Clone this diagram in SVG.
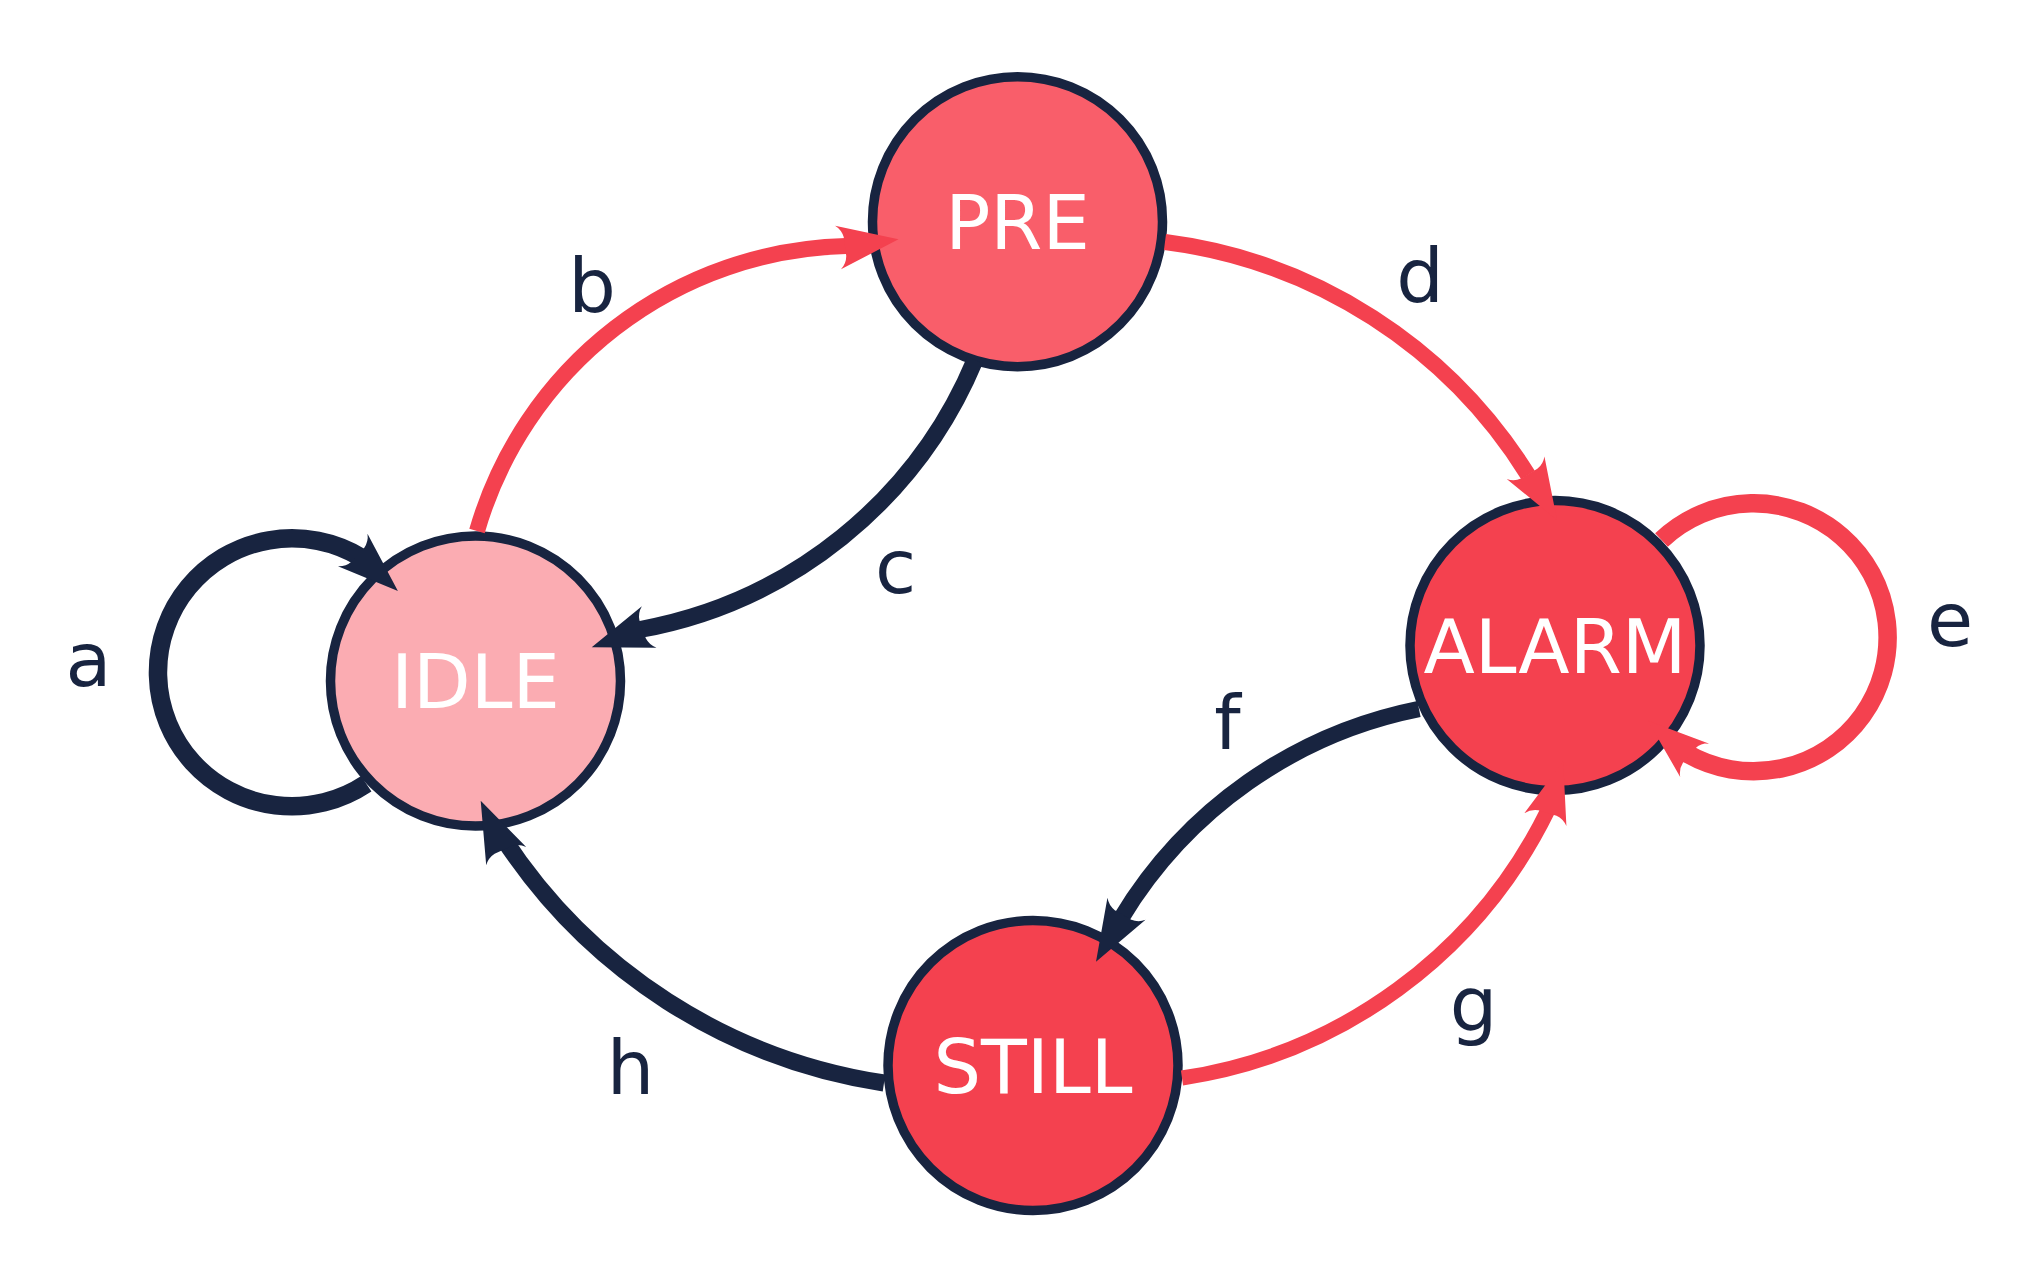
<svg xmlns="http://www.w3.org/2000/svg" xmlns:xlink="http://www.w3.org/1999/xlink" width="2040" height="1288" viewBox="0 0 2040 1288">
<style>
.node circle{stroke:#182440;stroke-width:9.5}
.nlabel{font-family:"DejaVu Sans","Liberation Sans",sans-serif;font-size:75px;fill:#ffffff;text-anchor:middle}
.elabel{font-family:"DejaVu Sans","Liberation Sans",sans-serif;font-size:75px;fill:#182440;text-anchor:middle}
.shaft{fill:none;stroke-linecap:butt}
.navy{stroke:#182440}
.red{stroke:#F4414F}
.hnavy{fill:#182440}
.hred{fill:#F4414F}
</style>
<defs>
<path id="ah" d="M0,0 L-61,-22 Q-55,-17 -54,-9.5 L-54,9.5 Q-55,17 -61,22 Z"/>
</defs>
<rect width="2040" height="1288" fill="#ffffff"/>
<g id="nodes">
<g id="node-PRE" class="node"><circle cx="1017.5" cy="221.7" r="145" fill="#F95E6A"/><text class="nlabel" x="1017.5" y="248.7">PRE</text></g>
<g id="node-IDLE" class="node"><circle cx="475.5" cy="681" r="145" fill="#FBACB2"/><text class="nlabel" x="475.5" y="708">IDLE</text></g>
<g id="node-ALARM" class="node"><circle cx="1555" cy="645.6" r="145" fill="#F4414F"/><text class="nlabel" x="1555" y="672.6">ALARM</text></g>
<g id="node-STILL" class="node"><circle cx="1033" cy="1065.5" r="145" fill="#F4414F"/><text class="nlabel" x="1033" y="1092.5">STILL</text></g>
</g>
<g id="connectors">
<g id="edge-a"><path class="shaft navy" stroke-width="18.5" d="M366.3,783.8 A134,134 0 1 1 360.9,557.4"/><use xlink:href="#ah" href="#ah" class="hnavy" transform="translate(397.9,591) rotate(42.2)"/></g>
<g id="edge-b"><path class="shaft red" stroke-width="16" d="M477,531 A394.5,394.5 0 0 1 846,246"/><use xlink:href="#ah" href="#ah" class="hred" transform="translate(898.5,239.3) rotate(-7.7)"/></g>
<g id="edge-c"><path class="shaft navy" stroke-width="17" d="M975,360 A450,450 0 0 1 640,629.5"/><use xlink:href="#ah" href="#ah" class="hnavy" transform="translate(591.7,647.3) rotate(160.5)"/></g>
<g id="edge-d"><path class="shaft red" stroke-width="16" d="M1165,242 A503,503 0 0 1 1528,475"/><use xlink:href="#ah" href="#ah" class="hred" transform="translate(1557,520) rotate(59)"/></g>
<g id="edge-e"><path class="shaft red" stroke-width="18.5" d="M1661.5,540 A134,134 0 1 1 1686,753"/><use xlink:href="#ah" href="#ah" class="hred" transform="translate(1647.9,720.7) rotate(220.3)"/></g>
<g id="edge-f"><path class="shaft navy" stroke-width="16.5" d="M1419,709 A451.2,451.2 0 0 0 1121,918.4"/><use xlink:href="#ah" href="#ah" class="hnavy" transform="translate(1096,961.7) rotate(120)"/></g>
<g id="edge-g"><path class="shaft red" stroke-width="15" d="M1182,1078 A487.8,487.8 0 0 0 1548,810"/><use xlink:href="#ah" href="#ah" class="hred" transform="translate(1563.2,761.3) rotate(-73)"/></g>
<g id="edge-h"><path class="shaft navy" stroke-width="17" d="M884,1083 A553.8,553.8 0 0 1 503,838"/><use xlink:href="#ah" href="#ah" class="hnavy" transform="translate(480.7,800.7) rotate(245.3)"/></g>
</g>
<g id="edge-labels">
<text class="elabel" x="88.5" y="686.3">a</text>
<text class="elabel" x="592" y="312">b</text>
<text class="elabel" x="895.5" y="593">c</text>
<text class="elabel" x="1420" y="302">d</text>
<text class="elabel" x="1950" y="646">e</text>
<text class="elabel" x="1227.5" y="748.7">f</text>
<text class="elabel" x="1473.5" y="1030">g</text>
<text class="elabel" x="630.5" y="1093.7">h</text>
</g>
</svg>
